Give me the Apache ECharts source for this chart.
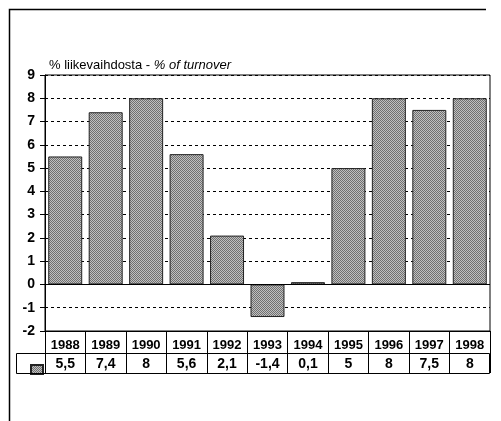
<!DOCTYPE html>
<html>
<head>
<meta charset="utf-8">
<script src="https://cdn.jsdelivr.net/npm/echarts@6/dist/echarts.min.js"></script>
<style>
  html, body { margin: 0; padding: 0; background: #fff; }
  #chart { width: 501px; height: 421px; }
</style>
</head>
<body>
<div id="chart"></div>
<script>
var years = ['1988', '1989', '1990', '1991', '1992', '1993', '1994', '1995', '1996', '1997', '1998'];
var values = [5.5, 7.4, 8, 5.6, 2.1, -1.4, 0.1, 5, 8, 7.5, 8];
var valueLabels = ['5,5', '7,4', '8', '5,6', '2,1', '-1,4', '0,1', '5', '8', '7,5', '8'];

// pieni rasterikuvio pylväisiin (harmaa "dither")
var pat = document.createElement('canvas');
pat.width = 2;
pat.height = 2;
var pctx = pat.getContext('2d');
pctx.fillStyle = '#c0c0c0';
pctx.fillRect(0, 0, 2, 2);
pctx.fillStyle = '#707070';
pctx.fillRect(0, 0, 1, 1);
pctx.fillRect(1, 1, 1, 1);

var font = '"Liberation Sans", Arial, sans-serif';
var myChart = echarts.init(document.getElementById('chart'));

var option = {
    backgroundColor: '#fff',
    animation: false,
    textStyle: { fontFamily: font },
    title: {
        text: '{a|% liikevaihdosta - }{b|% of turnover}',
        left: 44,
        top: 54,
        textStyle: {
            fontWeight: 'normal',
            rich: {
                a: { fontFamily: font, fontSize: 13, color: '#000', fontWeight: 'normal' },
                b: { fontFamily: font, fontSize: 13, color: '#000', fontWeight: 'normal', fontStyle: 'italic' }
            }
        }
    },
    legend: {
        left: 25,
        top: 359,
        icon: 'rect',
        itemWidth: 12,
        itemHeight: 9,
        itemGap: 0,
        formatter: function () { return ''; },
        selectedMode: false,
        data: ['liikevaihto']
    },
    grid: {
        left: 45,
        right: 11,
        top: 75,
        bottom: 90,
        show: true,
        borderColor: '#000',
        borderWidth: 1
    },
    xAxis: [
        {
            type: 'category',
            data: years,
            position: 'bottom',
            axisLine: { onZero: false, lineStyle: { color: '#000' } },
            axisTick: { show: true, length: 42, lineStyle: { color: '#000' } },
            axisLabel: { color: '#000', fontWeight: 'bold', fontSize: 13, margin: 8, fontFamily: font }
        },
        {
            type: 'category',
            data: valueLabels,
            position: 'bottom',
            offset: 22,
            axisLine: { show: false },
            axisTick: { show: false },
            axisLabel: { color: '#000', fontWeight: 'bold', fontSize: 14, margin: 4, fontFamily: font }
        }
    ],
    yAxis: {
        type: 'value',
        min: -2,
        max: 9,
        interval: 1,
        axisLine: { show: true, lineStyle: { color: '#000' } },
        axisTick: { show: true, length: 5, lineStyle: { color: '#000' } },
        axisLabel: { color: '#000', fontWeight: 'bold', fontSize: 14, margin: 10, fontFamily: font },
        splitLine: { lineStyle: { color: '#000', type: [3, 3], width: 1 } }
    },
    series: [
        {
            name: 'liikevaihto',
            type: 'bar',
            data: values,
            barCategoryGap: '16%',
            itemStyle: {
                color: { image: pat, repeat: 'repeat' },
                borderColor: '#222',
                borderWidth: 1
            },
            markLine: {
                silent: true,
                symbol: 'none',
                label: { show: false },
                lineStyle: { color: '#000', type: 'solid', width: 1 },
                data: [{ yAxis: 0 }]
            }
        }
    ],
    graphic: [
        // taulukon arvorivi
        {
            type: 'rect',
            shape: { x: 16.5, y: 353.5, width: 473, height: 20 },
            style: { fill: 'none', stroke: '#000', lineWidth: 1 },
            z: 10
        },
        // ulkokehys
        {
            type: 'polyline',
            shape: { points: [[9.5, 421], [9.5, 9.5], [486, 9.5]] },
            style: { fill: 'none', stroke: '#000', lineWidth: 1.5 }
        }
    ]
};

myChart.setOption(option);
</script>
</body>
</html>
